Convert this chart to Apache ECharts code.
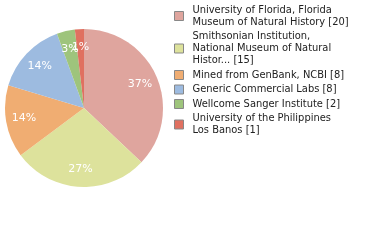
<!DOCTYPE html>
<html><head><meta charset="utf-8">
<script src="https://cdn.jsdelivr.net/npm/echarts@6/dist/echarts.min.js"></script>
<style>html,body{margin:0;padding:0;background:#fff}#c{width:380px;height:240px}</style>
</head><body><div id="c"></div>
<script>
const categories = [
  "University of Florida, Florida\nMuseum of Natural History [20]",
  "Smithsonian Institution,\nNational Museum of Natural\nHistor... [15]",
  "Mined from GenBank, NCBI [8]",
  "Generic Commercial Labs [8]",
  "Wellcome Sanger Institute [2]",
  "University of the Philippines\nLos Banos [1]"
];
const values = [20, 15, 8, 8, 2, 1];
const colors = ["#dfa59e", "#dde29c", "#f0ad72", "#9dbbe0", "#9ec47c", "#e07060"];
const total = values.reduce((a, b) => a + b, 0);
const data = categories.map((n, i) => ({name: n, value: values[i], itemStyle: {color: colors[i]}}));
const chart = echarts.init(document.getElementById('c'), null, {renderer: 'canvas'});
const font = "DejaVu Sans Condensed, DejaVu Sans, sans-serif";
chart.setOption({
  animation: false,
  legend: {
    orient: 'vertical', left: 174, top: 4, padding: 0, itemWidth: 9, itemHeight: 9, itemGap: 2.5,
    icon: 'rect',
    itemStyle: {borderColor: '#888', borderWidth: 1},
    textStyle: {fontFamily: font, fontSize: 11, lineHeight: 12, color: '#222', padding: [0,0,0,4]},
    data: categories
  },
  series: [{
    type: 'pie', center: [84, 108], radius: [0, 79], startAngle: 90, clockwise: true,
    label: {show: false}, labelLine: {show: false}, data: data,
    itemStyle: {borderWidth: 0}
  }, {
    type: 'pie', center: [84, 108], radius: [37, 79], startAngle: 90, clockwise: true, silent: true,
    legendHoverLink: false, avoidLabelOverlap: false,
    labelLayout: {hideOverlap: false},
    itemStyle: {color: 'rgba(0,0,0,0)'},
    label: {show: true, position: 'inside', color: '#fff', fontFamily: "DejaVu Sans, sans-serif", fontSize: 11,
      formatter: p => Math.floor(p.value / total * 100) + '%'},
    labelLine: {show: false},
    data: values.map((v, i) => ({name: 'x' + i, value: v}))
  }]
});
</script></body></html>
